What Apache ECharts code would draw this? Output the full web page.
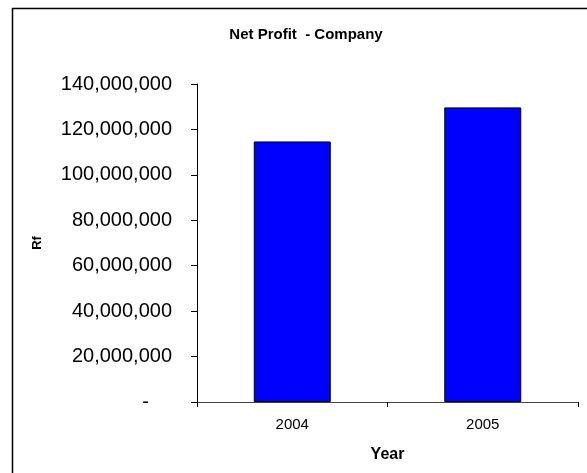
<!DOCTYPE html>
<html>
<head>
<meta charset="utf-8">
<script src="https://cdn.jsdelivr.net/npm/echarts@6/dist/echarts.min.js"></script>
<style>html,body{margin:0;padding:0;background:#fff;}#c{width:587px;height:473px;}</style>
</head>
<body>
<div id="c"></div>
<script>
var categories = ['2004', '2005'];
var netProfit = [114700000, 129700000];
var yTicks = [0, 20000000, 40000000, 60000000, 80000000, 100000000, 120000000, 140000000];

function fmt(v) {
  if (v === 0) return '{z|-}';
  return String(v).replace(/\B(?=(\d{3})+(?!\d))/g, ',');
}

var FONT = 'Liberation Sans, Arial';
var chart = echarts.init(document.getElementById('c'), null, {renderer: 'canvas'});
chart.setOption({
  animation: false,
  backgroundColor: '#ffffff',
  title: {
    text: 'Net Profit  - Company',
    left: 301, top: 22, textAlign: 'center',
    textStyle: {fontFamily: FONT, fontSize: 15, fontWeight: 'bold', color: '#000'}
  },
  graphic: [{
    type: 'rect', silent: true,
    shape: {x: 12.5, y: 8.5, width: 600, height: 500},
    style: {fill: 'none', stroke: '#000', lineWidth: 1.5}
  }],
  grid: {left: 197, right: 9, top: 84, bottom: 71},
  xAxis: {
    type: 'category', data: categories,
    name: 'Year', nameLocation: 'middle', nameGap: 45,
    nameTextStyle: {fontFamily: FONT, fontSize: 16, fontWeight: 'bold', color: '#000'},
    axisLine: {lineStyle: {color: '#444', width: 1}},
    axisTick: {show: true, alignWithLabel: false, length: 5, lineStyle: {color: '#000'}},
    axisLabel: {fontFamily: FONT, fontSize: 15, color: '#000', margin: 15}
  },
  yAxis: {
    type: 'value', min: 0, max: 140000000, interval: 20000000,
    name: 'Rf', nameLocation: 'middle', nameGap: 153, nameRotate: 90,
    nameTextStyle: {fontFamily: FONT, fontSize: 13, fontWeight: 'bold', color: '#000'},
    axisLine: {show: true, lineStyle: {color: '#000', width: 1}},
    axisTick: {show: true, length: 6, inside: false, lineStyle: {color: '#000'}},
    splitLine: {show: false},
    axisLabel: {fontFamily: FONT, fontSize: 20, color: '#000', margin: 25,
      rich: {z: {fontFamily: FONT, fontSize: 20, color: '#000', padding: [0, 23, 0, 0]}},
      formatter: function (v) { return yTicks.indexOf(v) >= 0 ? fmt(v) : ''; }}
  },
  series: [{
    type: 'bar', data: netProfit, barWidth: 77,
    itemStyle: {color: '#0000FF', borderColor: '#000', borderWidth: 1}
  }]
});
</script>
</body>
</html>
